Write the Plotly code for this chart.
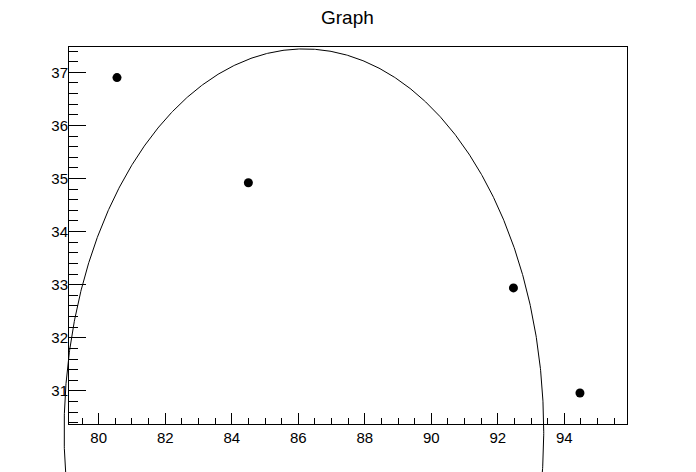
import numpy as np
import plotly.graph_objects as go

# Data points
x_values = [80.55, 84.5, 92.47, 94.47]
y_values = [36.9, 34.92, 32.94, 30.96]

# Circle (fit) parameters
circle_cx = 86.17
circle_cy = 30.23
circle_r = 7.21

# Axis ranges and ticks
x_range = [79.107, 95.884]
y_range = [30.377, 37.476]
x_tick0, x_dtick, x_minor = 80, 2, 0.5
y_tick0, y_dtick, y_minor = 31, 1, 0.2

W, H = 696, 472
frame_left, frame_right, frame_top, frame_bottom = 69, 627, 47, 424
xd = [frame_left / W, frame_right / W]
yd = [1 - frame_bottom / H, 1 - frame_top / H]

# Full-figure overlay axes with identical scale (so the circle is not clipped by the frame)
sx = (x_range[1] - x_range[0]) / (xd[1] - xd[0])
x2_range = [x_range[0] - xd[0] * sx, x_range[0] + (1 - xd[0]) * sx]
sy = (y_range[1] - y_range[0]) / (yd[1] - yd[0])
y2_range = [y_range[0] - yd[0] * sy, y_range[0] + (1 - yd[0]) * sy]

t = np.linspace(0, 2 * np.pi, 1441)
circ_x = circle_cx + circle_r * np.cos(t)
circ_y = circle_cy + circle_r * np.sin(t)

fig = go.Figure()
fig.add_trace(go.Scatter(x=x_values, y=y_values, mode="markers",
                         marker=dict(color="black", size=9),
                         xaxis="x", yaxis="y", showlegend=False))
fig.add_trace(go.Scatter(x=circ_x, y=circ_y, mode="lines",
                         line=dict(color="black", width=1),
                         xaxis="x2", yaxis="y2", showlegend=False))

font = "Liberation Sans, Arial, Helvetica, sans-serif"
fig.update_layout(
    width=W, height=H,
    margin=dict(l=0, r=0, t=0, b=0),
    paper_bgcolor="white", plot_bgcolor="rgba(0,0,0,0)",
    font=dict(family=font, size=15, color="black"),
    xaxis=dict(domain=xd, range=x_range, tickmode="linear", tick0=x_tick0, dtick=x_dtick,
               ticks="inside", ticklen=11, tickwidth=1, tickcolor="black",
               showline=True, linecolor="black", linewidth=1, mirror=True,
               showgrid=False, zeroline=False, anchor="y",
               tickfont=dict(size=15),
               minor=dict(ticks="inside", ticklen=6, dtick=x_minor, tick0=x_tick0,
                          tickcolor="black", showgrid=False)),
    yaxis=dict(domain=yd, range=y_range, tickmode="linear", tick0=y_tick0, dtick=y_dtick,
               ticks="inside", ticklen=17, tickwidth=1, tickcolor="black",
               showline=True, linecolor="black", linewidth=1, mirror=True,
               showgrid=False, zeroline=False, anchor="x",
               tickfont=dict(size=15), ticklabelstandoff=-3,
               minor=dict(ticks="inside", ticklen=9, dtick=y_minor, tick0=y_tick0,
                          tickcolor="black", showgrid=False)),
    xaxis2=dict(domain=[0, 1], range=x2_range, visible=False, anchor="y2", fixedrange=True),
    yaxis2=dict(domain=[0, 1], range=y2_range, visible=False, anchor="x2", fixedrange=True),
    annotations=[dict(text="Graph", x=347 / W, y=1 - 17 / H,
                      xref="paper", yref="paper",
                      xanchor="center", yanchor="middle", showarrow=False,
                      font=dict(size=19, family=font, color="black"))],
)

fig.write_html("out.html",
               config={"displayModeBar": False, "staticPlot": True},
               post_script="document.body.style.margin='0';document.body.style.overflow='hidden';")
